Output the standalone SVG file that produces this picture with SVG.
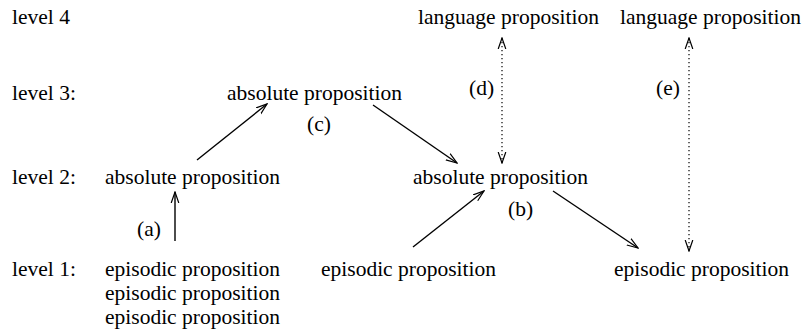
<svg xmlns="http://www.w3.org/2000/svg" width="804" height="329" viewBox="0 0 804 329">
<style>
text{font-family:"Liberation Serif","Times New Roman",serif;font-size:21.5px;fill:#000}
.c{stroke:#000;stroke-width:1.4;fill:none}
.d{stroke-width:1.2;stroke-dasharray:1.2 2.8}
</style>
<defs>
<marker id="ah" viewBox="0 0 12 10" refX="11" refY="5" markerWidth="12" markerHeight="10" markerUnits="userSpaceOnUse" orient="auto-start-reverse">
<path d="M0,1.2 L11,5 L0,8.8" fill="none" stroke="#000" stroke-width="1.2"/>
</marker>
</defs>
<rect width="804" height="329" fill="#fff"/>
<g id="levels">
<text x="12" y="24">level 4</text>
<text x="12" y="100">level 3:</text>
<text x="12" y="184">level 2:</text>
<text x="12" y="276">level 1:</text>
</g>
<g id="n-abs2-left"><text x="105" y="184">absolute proposition</text></g>
<g id="n-abs3"><text x="227" y="100">absolute proposition</text></g>
<g id="n-abs2-right"><text x="413" y="184">absolute proposition</text></g>
<g id="n-lang1"><text x="418" y="24">language proposition</text></g>
<g id="n-lang2"><text x="620" y="24">language proposition</text></g>
<g id="n-epi-left">
<text x="105" y="276">episodic proposition</text>
<text x="105" y="300">episodic proposition</text>
<text x="105" y="324">episodic proposition</text>
</g>
<g id="n-epi-mid"><text x="321" y="276">episodic proposition</text></g>
<g id="n-epi-right"><text x="614" y="276">episodic proposition</text></g>
<g id="connectors">
<line class="c" x1="175" y1="241" x2="175" y2="192" marker-end="url(#ah)"/>
<line class="c" x1="197" y1="160" x2="267" y2="104" marker-end="url(#ah)"/>
<line class="c" x1="373" y1="105" x2="457" y2="163" marker-end="url(#ah)"/>
<line class="c" x1="413" y1="247" x2="484" y2="191" marker-end="url(#ah)"/>
<line class="c" x1="553" y1="191" x2="638" y2="248" marker-end="url(#ah)"/>
<line class="c d" x1="502" y1="38" x2="502" y2="163" marker-start="url(#ah)" marker-end="url(#ah)"/>
<line class="c d" x1="689" y1="38" x2="689" y2="251" marker-start="url(#ah)" marker-end="url(#ah)"/>
<text x="137" y="236">(a)</text>
<text x="508" y="216">(b)</text>
<text x="307" y="131">(c)</text>
<text x="469" y="95">(d)</text>
<text x="656" y="95">(e)</text>
</g>
</svg>
